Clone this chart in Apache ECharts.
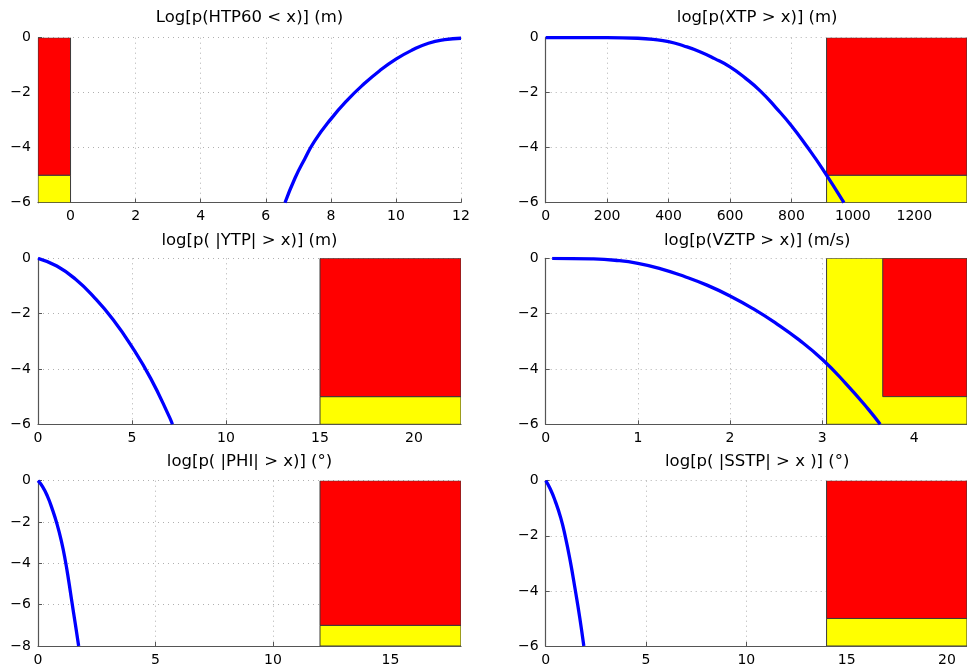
<!DOCTYPE html>
<html><head><meta charset="utf-8">
<script src="https://cdn.jsdelivr.net/npm/echarts@6/dist/echarts.min.js"></script>
<style>html,body{margin:0;padding:0;background:#fff}#c{width:967px;height:668px}</style>
</head><body><div id="c"></div>
<script>
// ---- Panel titles ----
const titles = [
  'Log[p(HTP60 < x)] (m)',
  'log[p(XTP > x)] (m)',
  'log[p( |YTP| > x)] (m)',
  'log[p(VZTP > x)] (m/s)',
  'log[p( |PHI| > x)] (°)',
  'log[p( |SSTP| > x )] (°)'
];
// ---- Axis ranges / tick values ----
const xRanges = [[-1, 12], [0, 1371.6], [0, 22.5], [0, 4.572], [0, 18], [0, 21]];
const yRanges = [[-6, 0], [-6, 0], [-6, 0], [-6, 0], [-8, 0], [-6, 0]];
const xTicks = [
  [0, 2, 4, 6, 8, 10, 12],
  [0, 200, 400, 600, 800, 1000, 1200],
  [0, 5, 10, 15, 20],
  [0, 1, 2, 3, 4],
  [0, 5, 10, 15],
  [0, 5, 10, 15, 20]
];
const yTicks = [
  [-6, -4, -2, 0], [-6, -4, -2, 0], [-6, -4, -2, 0],
  [-6, -4, -2, 0], [-8, -6, -4, -2, 0], [-6, -4, -2, 0]
];

// ---- Curves ----
const htpX = [6.59, 6.9, 7.2, 7.5, 8.0, 8.5, 9.0, 9.5, 10, 10.5, 11, 11.5, 12];
const htpY = [-6, -5.1, -4.4, -3.76, -2.96, -2.28, -1.7, -1.2, -0.78, -0.45, -0.2, -0.07, -0.02];
const xtpX = [0, 200, 300, 350, 400, 450, 500, 550, 600, 650, 700, 750, 800, 850, 900, 971];
const xtpY = [0, 0, -0.02, -0.06, -0.14, -0.3, -0.5, -0.76, -1.06, -1.47, -1.95, -2.55, -3.2, -3.95, -4.75, -6];
const ytpX = [0, 1, 2, 3, 4, 5, 6, 7, 7.15];
const ytpY = [0, -0.28, -0.76, -1.42, -2.22, -3.2, -4.35, -5.75, -6];
const vztpX = [0.07, 0.5, 0.75, 1.0, 1.25, 1.5, 1.75, 2.0, 2.25, 2.5, 2.75, 3.0, 3.25, 3.5, 3.63];
const vztpY = [0, -0.02, -0.07, -0.18, -0.38, -0.65, -0.97, -1.36, -1.82, -2.35, -2.95, -3.65, -4.5, -5.45, -6];
const phiX = [0, 0.2, 0.4, 0.6, 0.81, 1.0, 1.16, 1.3, 1.44, 1.59, 1.73];
const phiY = [0, -0.3, -0.75, -1.35, -2.1, -2.95, -3.85, -4.8, -5.85, -6.95, -8];
const sstpX = [0, 0.23, 0.48, 0.75, 0.97, 1.22, 1.47, 1.7, 1.9];
const sstpY = [0, -0.3, -0.75, -1.35, -2.0, -2.9, -3.95, -4.98, -6];

// ---- Limit boxes [x0, x1, y0, y1] ----
const yellowBoxes = [[-1, 0, -6, -5], [914.4, 1371.6, -6, -5], [15, 22.5, -6, -5], [3.048, 4.572, -6, 0], [12, 18, -8, -7], [14, 21, -6, -5]];
const redBoxes = [[-1, 0, -5, 0], [914.4, 1371.6, -5, 0], [15, 22.5, -5, 0], [3.6576, 4.572, -5, 0], [12, 18, -7, 0], [14, 21, -5, 0]];

const curvesX = [htpX, xtpX, ytpX, vztpX, phiX, sstpX];
const curvesY = [htpY, xtpY, ytpY, vztpY, phiY, sstpY];

// ---- Layout ----
const lefts = [38, 545.7];
const tops = [37.7, 258.3, 480.7];
const heights = [165, 166, 165.3];
const W = 423;
const titleYs = [9.5, 232, 453];

const FONT = '"DejaVu Sans", Verdana, sans-serif';
const fmtNum = v => (v < 0 ? '\u2212' : '') + Math.abs(v);
const GRID_LINE = { show: true, lineStyle: { color: '#b0b0b0', type: [1, 4], width: 1 } };

const grids = [], xAxes = [], yAxes = [], series = [], titleOpts = [];
for (let i = 0; i < 6; i++) {
  const col = i % 2, row = Math.floor(i / 2);
  grids.push({ left: lefts[col], top: tops[row], width: W, height: heights[row], containLabel: false });
  titleOpts.push({
    text: titles[i], left: lefts[col] + W / 2, top: titleYs[row], textAlign: 'center', padding: 0,
    textStyle: { fontFamily: FONT, fontSize: 16.5, fontWeight: 'normal', color: '#000' }
  });
  xAxes.push({
    gridIndex: i, type: 'value', min: xRanges[i][0], max: xRanges[i][1],
    axisLine: { show: true, onZero: false, lineStyle: { color: '#555', width: 1.2 } },
    axisTick: { show: true, inside: true, length: 4, lineStyle: { color: '#555' }, customValues: xTicks[i] },
    axisLabel: { fontFamily: FONT, fontSize: 14, color: '#000', margin: 7, formatter: fmtNum, customValues: xTicks[i] },
    splitLine: GRID_LINE
  });
  yAxes.push({
    gridIndex: i, type: 'value', min: yRanges[i][0], max: yRanges[i][1],
    axisLine: { show: true, onZero: false, lineStyle: { color: '#555', width: 1.2 } },
    axisTick: { show: true, inside: true, length: 4, lineStyle: { color: '#555' }, customValues: yTicks[i] },
    axisLabel: { fontFamily: FONT, fontSize: 14, color: '#000', margin: 7, formatter: fmtNum, customValues: yTicks[i] },
    splitLine: GRID_LINE
  });
  series.push({
    type: 'custom', xAxisIndex: i, yAxisIndex: i, z: 1, clip: true,
    encode: { x: [0, 1], y: [2, 3] },
    renderItem: (params, api) => {
      const p0 = api.coord([api.value(0), api.value(3)]);
      const p1 = api.coord([api.value(1), api.value(2)]);
      return {
        type: 'rect',
        shape: { x: p0[0], y: p0[1], width: p1[0] - p0[0], height: p1[1] - p0[1] },
        style: { fill: api.visual('color'), stroke: '#3a3a3a', lineWidth: 1 }
      };
    },
    data: [
      { value: yellowBoxes[i], itemStyle: { color: '#ffff00' } },
      { value: redBoxes[i], itemStyle: { color: '#ff0000' } }
    ],
    silent: true
  });
  series.push({
    type: 'line', xAxisIndex: i, yAxisIndex: i, z: 3, showSymbol: false,
    smooth: 0.5,
    lineStyle: { color: '#0000ff', width: 3.3 }, itemStyle: { color: '#0000ff' },
    data: curvesX[i].map((x, k) => [x, curvesY[i][k]]),
    silent: true
  });
}

const chart = echarts.init(document.getElementById('c'), null, { renderer: 'canvas' });
chart.setOption({
  animation: false,
  backgroundColor: '#fff',
  title: titleOpts,
  grid: grids,
  xAxis: xAxes,
  yAxis: yAxes,
  series: series
});
</script>
</body></html>
